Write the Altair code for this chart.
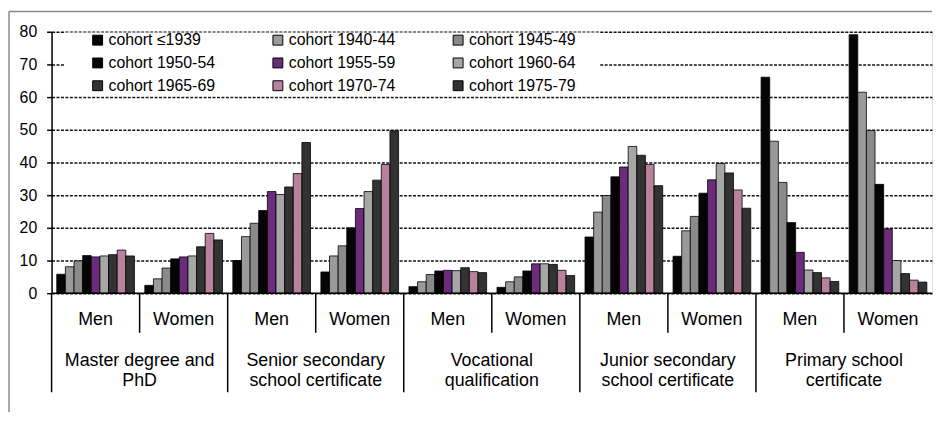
import altair as alt
import pandas as pd

cohorts = ["cohort ≤1939", "cohort 1940-44", "cohort 1945-49",
           "cohort 1950-54", "cohort 1955-59", "cohort 1960-64",
           "cohort 1965-69", "cohort 1970-74", "cohort 1975-79"]
cohort_colors = ["#050505", "#9a9a9a", "#8a8a8a",
                 "#050505", "#6b2d7b", "#a6a6a6",
                 "#333333", "#b8829f", "#303330"]

categories = ["Master degree and\nPhD", "Senior secondary\nschool certificate",
              "Vocational\nqualification", "Junior secondary\nschool certificate",
              "Primary school\ncertificate"]
sexes = ["Men", "Women"]

master_men = [5.8, 8.1, 9.9, 11.5, 11.1, 11.4, 11.8, 13.2, 11.4]
master_women = [2.4, 4.4, 7.7, 10.5, 11.1, 11.4, 14.2, 18.3, 16.3]
senior_men = [10.0, 17.3, 21.4, 25.3, 31.1, 30.2, 32.5, 36.6, 46.1]
senior_women = [6.5, 11.4, 14.5, 20.0, 25.9, 31.1, 34.6, 39.4, 49.7]
voc_men = [2.0, 3.5, 5.7, 6.8, 7.0, 6.9, 7.8, 6.6, 6.3]
voc_women = [1.8, 3.5, 5.0, 6.8, 9.0, 9.0, 8.8, 7.0, 5.4]
junior_men = [17.2, 24.8, 29.9, 35.6, 38.6, 44.9, 42.2, 39.4, 32.9]
junior_women = [11.3, 19.1, 23.5, 30.6, 34.7, 39.7, 36.8, 31.6, 26.0]
primary_men = [66.1, 46.5, 33.9, 21.6, 12.5, 7.1, 6.3, 4.7, 3.6]
primary_women = [79.1, 61.5, 49.8, 33.3, 19.7, 10.0, 6.0, 4.0, 3.4]

y_ticks = [0, 10, 20, 30, 40, 50, 60, 70, 80]

series = [(master_men, master_women), (senior_men, senior_women),
          (voc_men, voc_women), (junior_men, junior_women),
          (primary_men, primary_women)]

sub_order = [f"{ci}|{s}" for ci in range(len(categories)) for s in sexes]

rows = []
for ci, cat in enumerate(categories):
    for s, vals in zip(sexes, series[ci]):
        for c, v in zip(cohorts, vals):
            rows.append({"cat": cat, "sex": s, "sub": f"{ci}|{s}", "cohort": c, "value": v})
df = pd.DataFrame(rows)

sub_df = pd.DataFrame({"sub": sub_order, "sex": [k.split("|")[1] for k in sub_order]})
men_df = pd.DataFrame({"sub": [f"{ci}|Men" for ci in range(len(categories))]})
women_df = pd.DataFrame({"sub": [f"{ci}|Women" for ci in range(len(categories))],
                         "cat": categories})
zero_df = pd.DataFrame({"value": [0]})

# legend entries are laid out column by column
ncol = 3
nrow = 3
legend_order = [cohorts[r * ncol + c] for c in range(ncol) for r in range(nrow)]
legend_colors = [cohort_colors[cohorts.index(k)] for k in legend_order]

W = 889
H = 264
FONT = "Liberation Sans"

y_axis = alt.Axis(values=y_ticks, tickCount=9, grid=True, gridDash=[3, 1.5],
                  gridColor="#111111", gridWidth=1.5, labelOverlap=False,
                  domainColor="black", domainWidth=1.5,
                  tickColor="black", tickWidth=1.5, tickSize=5,
                  labelFontSize=16, labelColor="black", labelPadding=10,
                  labelFont=FONT, title=None)
y_scale = alt.Scale(domain=[0, 80], nice=False)


def xenc(**kw):
    return alt.X("sub:N", sort=sub_order,
                 scale=alt.Scale(domain=sub_order, paddingInner=0, paddingOuter=0),
                 axis=None, **kw)


one = pd.DataFrame({"a": [0]})

legend_bg = alt.Chart(one).mark_rect(color="white").encode(
    x=alt.value(13.25), x2=alt.value(553.25), y=alt.value(0.8), y2=alt.value(65.2))

bars = alt.Chart(df).mark_bar(stroke="black", strokeWidth=0.8).encode(
    x=xenc(),
    xOffset=alt.XOffset("cohort:N", sort=cohorts,
                        scale=alt.Scale(domain=cohorts, paddingInner=0, paddingOuter=0.6)),
    y=alt.Y("value:Q", scale=y_scale, axis=y_axis),
    color=alt.Color("cohort:N",
                    scale=alt.Scale(domain=legend_order, range=legend_colors),
                    legend=alt.Legend(title=None, orient="none", legendX=38.5, legendY=0.5,
                                      columns=3, columnPadding=55, rowPadding=7,
                                      symbolType="square", symbolSize=100,
                                      symbolStrokeColor="black", symbolStrokeWidth=1,
                                      labelFontSize=16, labelColor="black", labelOffset=3,
                                      labelFont=FONT, padding=0, labelLimit=300)),
)

zero_line = alt.Chart(zero_df).mark_rule(color="black", strokeWidth=1.5).encode(
    y=alt.Y("value:Q", scale=y_scale, axis=y_axis))

sub_div = alt.Chart(women_df).mark_rule(color="black", strokeWidth=1.5).encode(
    x=xenc(bandPosition=0), y=alt.value(H), y2=alt.value(H + 40))

cat_div = alt.Chart(men_df).mark_rule(color="black", strokeWidth=1.5).encode(
    x=xenc(bandPosition=0), y=alt.value(H), y2=alt.value(H + 100))

sex_text = alt.Chart(sub_df).mark_text(fontSize=18, color="black", font=FONT,
                                       baseline="middle", align="center").encode(
    x=xenc(), y=alt.value(H + 27), text="sex:N")

cat_text = alt.Chart(women_df).mark_text(fontSize=18, color="black", font=FONT,
                                         baseline="middle", align="center",
                                         lineBreak="\n", lineHeight=20).encode(
    x=xenc(bandPosition=0), y=alt.value(H + 69), text="cat:N")

frame_left = alt.Chart(one).mark_rule(color="#8a8a8a", strokeWidth=1.5).encode(
    x=alt.value(-43), y=alt.value(-20.5), y2=alt.value(384))
frame_top = alt.Chart(one).mark_rule(color="#8a8a8a", strokeWidth=1.5).encode(
    x=alt.value(-43), x2=alt.value(W), y=alt.value(-20.5))

chart = alt.layer(legend_bg, bars, zero_line, sub_div, cat_div, sex_text, cat_text,
                  frame_left, frame_top).properties(
    width=W, height=H, padding=0
).configure_view(stroke=None).configure(font=FONT)

chart.save("out.html", embed_options={"renderer": "svg", "actions": False})
